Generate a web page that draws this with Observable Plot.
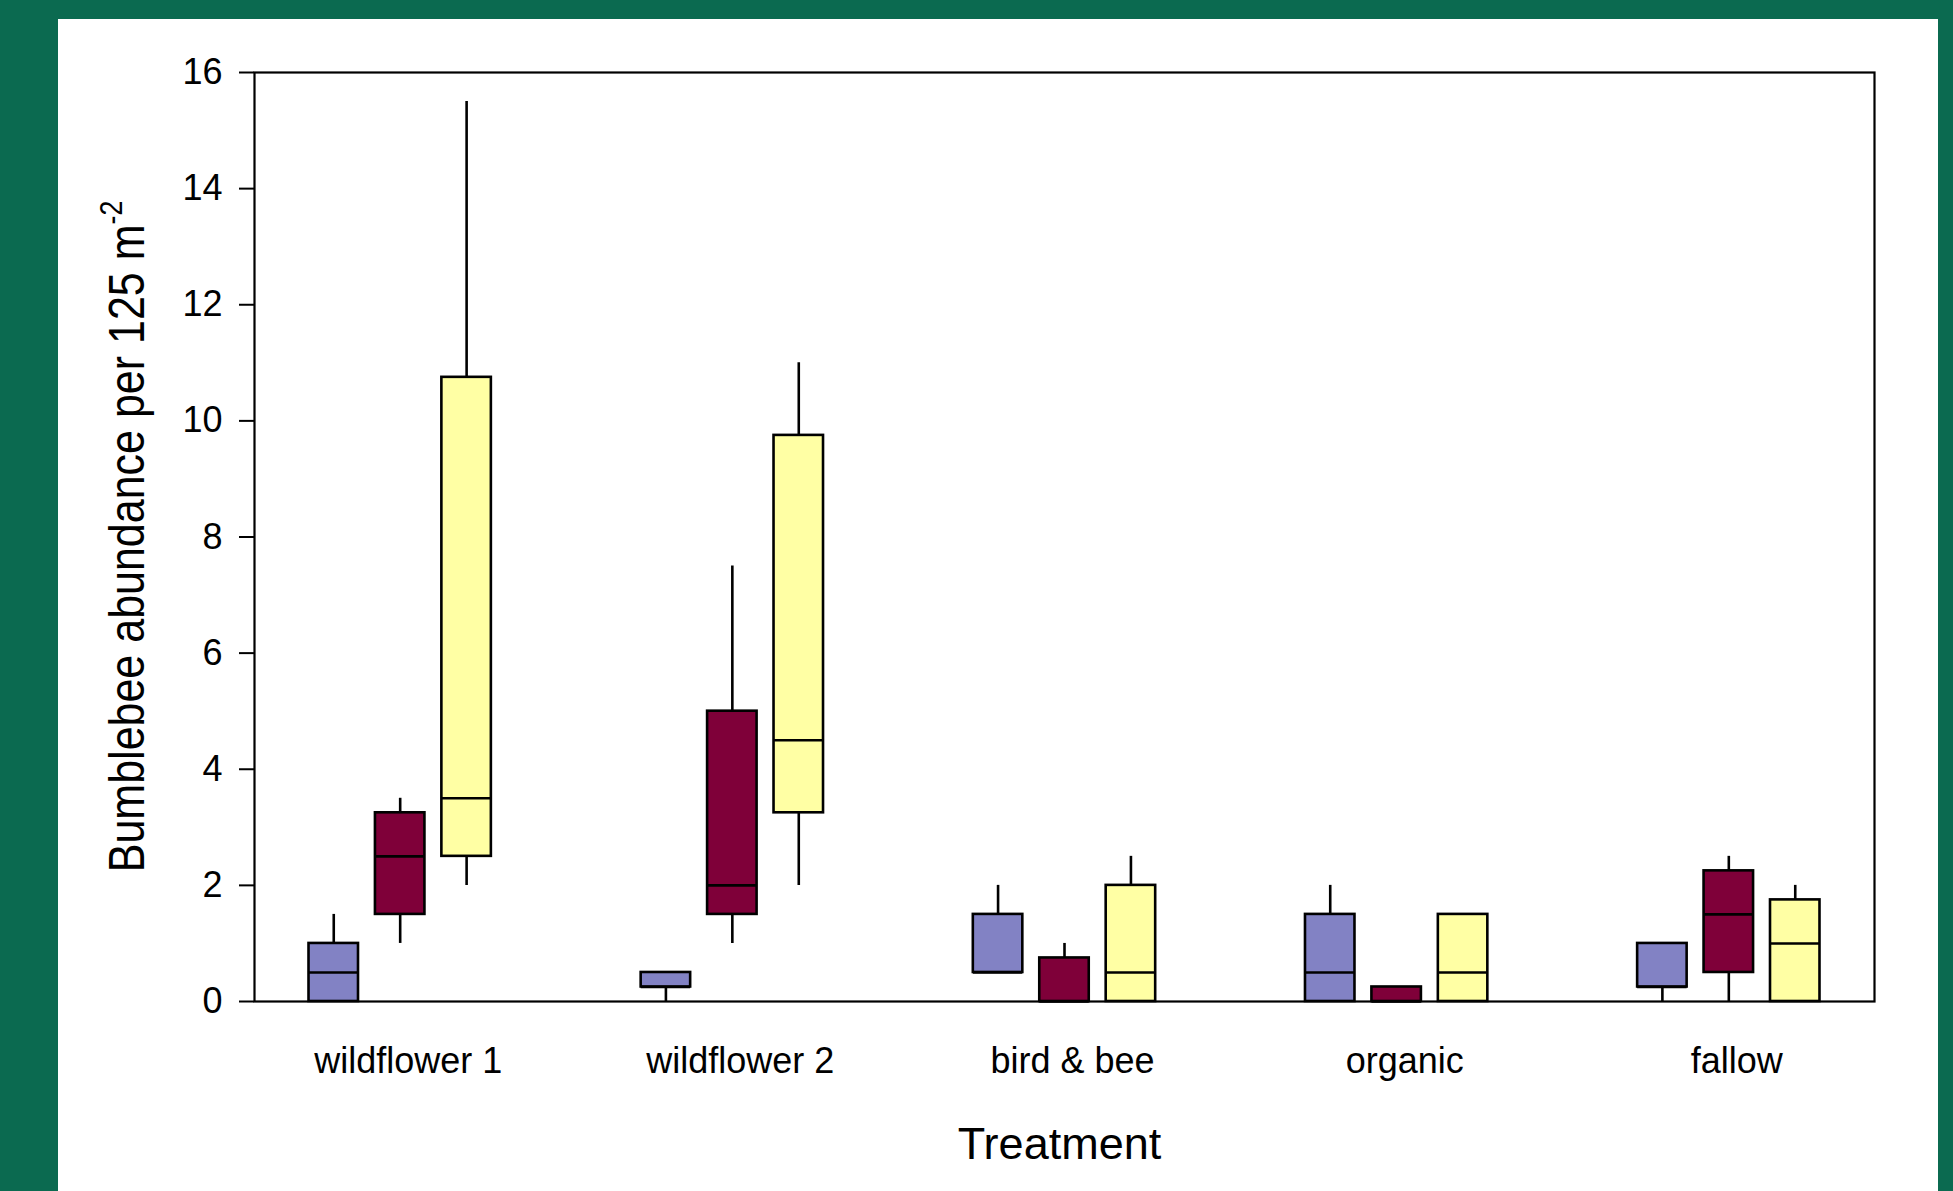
<!DOCTYPE html>
<html>
<head>
<meta charset="utf-8">
<script src="https://cdn.jsdelivr.net/npm/d3@7"></script>
<script src="https://cdn.jsdelivr.net/npm/@observablehq/plot@0.6"></script>
<style>
  html, body { margin: 0; padding: 0; background: #0b6a50; width: 1953px; height: 1191px; overflow: hidden; }
  #panel { position: absolute; left: 58px; top: 19px; width: 1880px; height: 1172px; background: #ffffff; }
  #panel svg { display: block; }
</style>
</head>
<body>
<div id="panel"></div>
<script>
// ---- data ----
const treatments = ["wildflower 1", "wildflower 2", "bird & bee", "organic", "fallow"];
const seriesNames = ["series 1", "series 2", "series 3"];
const seriesColors = ["#8282c4", "#7f0039", "#ffffa4"];
const yTicks = [0, 2, 4, 6, 8, 10, 12, 14, 16];

// per series (blue, maroon, yellow), one value per treatment
const whiskerLow = [
  [0, 0, 0.5, 0, 0],
  [1, 1, 0, 0, 0],
  [2, 2, 0, 0, 0]
];
const quartile1 = [
  [0, 0.25, 0.5, 0, 0.25],
  [1.5, 1.5, 0, 0, 0.5],
  [2.5, 3.25, 0, 0, 0]
];
const medians = [
  [0.5, 0.25, 0.5, 0.5, 0.25],
  [2.5, 2, 0, 0, 1.5],
  [3.5, 4.5, 0.5, 0.5, 1]
];
const quartile3 = [
  [1, 0.5, 1.5, 1.5, 1],
  [3.25, 5, 0.75, 0.25, 2.25],
  [10.75, 9.75, 2, 1.5, 1.75]
];
const whiskerHigh = [
  [1.5, 0.5, 2, 2, 1],
  [3.5, 7.5, 1, 0.25, 2.5],
  [15.5, 11, 2.5, 1.5, 2]
];

// ---- layout parameters ----
const groupOffset = 0.2;   // distance between boxes within a treatment (in treatment units)
const halfWidth = 0.0745;  // half box width (in treatment units)

const rows = [];
treatments.forEach((t, i) => {
  seriesNames.forEach((s, j) => {
    rows.push({
      treatment: t,
      series: s,
      pos: i + (j - 1) * groupOffset,
      lo: whiskerLow[j][i],
      q1: quartile1[j][i],
      med: medians[j][i],
      q3: quartile3[j][i],
      hi: whiskerHigh[j][i]
    });
  });
});

const font = "'Liberation Sans', Arial, Helvetica, sans-serif";

const chart = Plot.plot({
  width: 1880,
  height: 1172,
  marginLeft: 196,
  marginRight: 64,
  marginTop: 53,
  marginBottom: 190,
  style: { fontFamily: font, fontSize: "36px", color: "#000", background: "transparent" },
  x: { type: "linear", domain: [-0.4386, treatments.length - 1 + 0.4386] },
  y: { domain: [0, 16] },
  color: { domain: seriesNames, range: seriesColors },
  marks: [
    Plot.ruleX(rows, { x: "pos", y1: "lo", y2: "hi", stroke: "#000", strokeWidth: 2.6 }),
    Plot.rect(rows, {
      x1: d => d.pos - halfWidth,
      x2: d => d.pos + halfWidth,
      y1: "q1",
      y2: "q3",
      fill: "series",
      stroke: "#000",
      strokeWidth: 2.6
    }),
    Plot.ruleY(rows, {
      y: "med",
      x1: d => d.pos - halfWidth,
      x2: d => d.pos + halfWidth,
      stroke: "#000",
      strokeWidth: 2.6
    }),
    Plot.frame({ stroke: "#000", strokeWidth: 2.2 }),
    Plot.axisY({
      ticks: yTicks,
      tickSize: 15,
      tickPadding: 17,
      fontSize: 36,
      stroke: "#000",
      strokeWidth: 2,
      label: null
    }),
    Plot.axisX({
      ticks: d3.range(treatments.length),
      tickFormat: i => treatments[i],
      tickSize: 0,
      tickPadding: 46,
      dx: 8,
      fontSize: 36,
      label: null
    }),
    Plot.text(["Treatment"], {
      frameAnchor: "bottom",
      lineAnchor: "bottom",
      dy: 157,
      dx: -5,
      fontSize: 45,
      fill: "#000"
    })
  ]
});

document.getElementById("panel").appendChild(chart);

// rotated y-axis title with superscript, positioned from the y scale
const ys = chart.scale("y");
const yCenter = (ys.apply(0) + ys.apply(16)) / 2;
const title = d3.select(chart).append("text")
  .attr("transform", `translate(86,${yCenter}) rotate(-90) scale(0.86,1)`)
  .attr("text-anchor", "middle")
  .attr("font-family", font)
  .attr("font-size", 50)
  .attr("fill", "#000");
title.append("tspan").text("Bumblebee abundance per 125 m");
title.append("tspan").attr("font-size", 31).attr("dy", -22).text("-2");
</script>
</body>
</html>
